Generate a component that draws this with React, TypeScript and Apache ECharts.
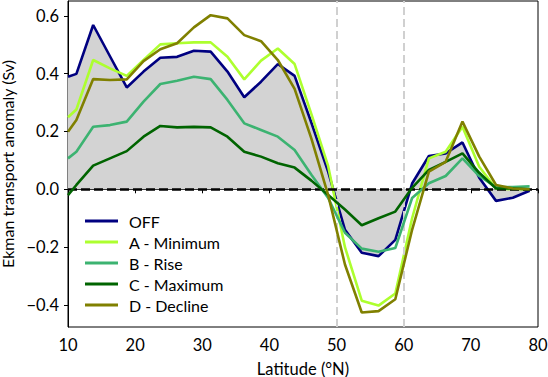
import React, { useEffect, useRef } from "react";
import * as echarts from "echarts";

const latitudes = [10, 11.25, 13.75, 16.25, 18.75, 21.25, 23.75, 26.25, 28.75, 31.25, 33.75, 36.25, 38.75, 41.25, 43.75, 46.25, 48.75, 51.25, 53.75, 56.25, 58.75, 61.25, 63.75, 66.25, 68.75, 71.25, 73.75, 76.25, 78.75];

const off = [0.389, 0.399, 0.568, 0.46, 0.352, 0.407, 0.455, 0.458, 0.479, 0.476, 0.407, 0.318, 0.372, 0.433, 0.392, 0.23, 0.06, -0.14, -0.219, -0.231, -0.175, 0.02, 0.115, 0.124, 0.162, 0.04, -0.04, -0.029, -0.005];
const aMinimum = [0.249, 0.276, 0.447, 0.418, 0.392, 0.447, 0.501, 0.505, 0.508, 0.508, 0.458, 0.38, 0.445, 0.487, 0.433, 0.26, 0.08, -0.2, -0.385, -0.402, -0.36, -0.1, 0.107, 0.13, 0.216, 0.078, 0.003, 0.0, 0.0];
const bRise = [0.107, 0.13, 0.216, 0.222, 0.234, 0.303, 0.364, 0.375, 0.389, 0.381, 0.309, 0.228, 0.205, 0.182, 0.136, 0.05, -0.03, -0.15, -0.205, -0.216, -0.203, -0.03, 0.021, 0.046, 0.107, 0.046, 0.007, 0.008, 0.01];
const cMaximum = [-0.02, 0.015, 0.082, 0.107, 0.132, 0.182, 0.219, 0.214, 0.216, 0.214, 0.182, 0.13, 0.113, 0.09, 0.075, 0.03, -0.02, -0.07, -0.124, -0.1, -0.077, 0.005, 0.067, 0.095, 0.124, 0.057, 0.003, 0.003, 0.0];
const dDecline = [0.199, 0.24, 0.381, 0.378, 0.38, 0.443, 0.484, 0.505, 0.56, 0.602, 0.591, 0.533, 0.512, 0.447, 0.347, 0.175, -0.02, -0.26, -0.426, -0.421, -0.38, -0.14, 0.061, 0.095, 0.234, 0.113, 0.015, 0.003, 0.0];

const seriesNames = ["OFF", "A - Minimum", "B - Rise", "C - Maximum", "D - Decline"];
const seriesColors = ["#000080", "#adff2f", "#3cb371", "#006400", "#808000"];
const seriesValues = [off, aMinimum, bRise, cMaximum, dDecline];

const yTicks = [-0.4, -0.2, 0.0, 0.2, 0.4, 0.6];
const phaseLines = [50, 60];

const FONT = "Lato";

export default function App() {
  const ref = useRef<HTMLDivElement>(null);
  useEffect(() => {
    if (!ref.current) return;
    const chart = echarts.init(ref.current, null, { renderer: "svg" });
    const pair = (vals: number[]) => latitudes.map((x, i) => [x, vals[i]]);
    const lines = seriesNames.map((name, i) => ({
      name,
      type: "line",
      data: pair(seriesValues[i]),
      showSymbol: false,
      symbol: "none",
      lineStyle: { color: seriesColors[i], width: 2.6 },
      itemStyle: { color: seriesColors[i] },
      z: 3 + i,
      clip: true,
    }));
    chart.setOption({
      animation: false,
      textStyle: { fontFamily: FONT },
      grid: {
        left: 68,
        right: 10,
        top: 1,
        bottom: 50,
        containLabel: false,
        outerBoundsMode: "none",
        show: true,
        borderColor: "#000",
        borderWidth: 1,
        backgroundColor: "transparent",
      },
      xAxis: {
        type: "value",
        min: 10,
        max: 80,
        interval: 10,
        name: "Latitude (°N)",
        nameLocation: "middle",
        nameGap: 33,
        nameTextStyle: { fontSize: 16.5, color: "#000", fontFamily: FONT },
        axisLine: { show: true, lineStyle: { color: "#000", width: 1 } },
        axisTick: { show: true, inside: false, length: 4, lineStyle: { color: "#000" } },
        axisLabel: { fontSize: 16.5, color: "#000", margin: 9, fontFamily: FONT },
        splitLine: { show: false },
      },
      yAxis: {
        type: "value",
        min: -0.476,
        max: 0.651,
        name: "Ekman transport anomaly (Sv)",
        nameLocation: "middle",
        nameGap: 47,
        nameTextStyle: { fontSize: 16, lineHeight: 16, color: "#000", fontFamily: FONT },
        axisLine: { show: true, lineStyle: { color: "#000", width: 1 } },
        axisTick: { show: true, inside: false, length: 4, lineStyle: { color: "#000" }, customValues: yTicks },
        axisLabel: {
          fontSize: 16.5,
          color: "#000",
          margin: 9,
          fontFamily: FONT,
          customValues: yTicks,
          formatter: (v: number) => {
            const s = Math.abs(v).toFixed(1);
            return v < -1e-9 ? "\u2212" + s : s;
          },
        },
        splitLine: { show: false },
      },
      legend: {
        orient: "vertical",
        left: 80,
        top: 208,
        data: seriesNames,
        icon: "rect",
        itemWidth: 33,
        itemHeight: 3,
        itemGap: 5,
        textStyle: { fontSize: 16, color: "#000", fontFamily: FONT, lineHeight: 16, padding: [0, 0, 0, 6] },
      },
      series: [
        {
          name: "fill",
          type: "line",
          data: pair(off),
          symbol: "none",
          lineStyle: { width: 0, opacity: 0 },
          areaStyle: { color: "#d3d3d3", opacity: 1, origin: 0 },
          z: 1,
          silent: true,
          markLine: {
            silent: true,
            symbol: "none",
            label: { show: false },
            lineStyle: { color: "#d0d0d0", width: 2, type: [8, 4] },
            data: phaseLines.map((x) => ({ xAxis: x })),
          },
        },
        ...lines,
        {
          name: "zero",
          type: "line",
          data: [],
          z: 20,
          markLine: {
            silent: true,
            symbol: "none",
            label: { show: false },
            lineStyle: { color: "#000", width: 2.5, type: [9, 4] },
            data: [{ yAxis: 0 }],
          },
        },
      ],
    });
    return () => chart.dispose();
  }, []);
  return <div ref={ref} style={{ width: 548, height: 377, position: "absolute", left: 0, top: 0 }} />;
}
